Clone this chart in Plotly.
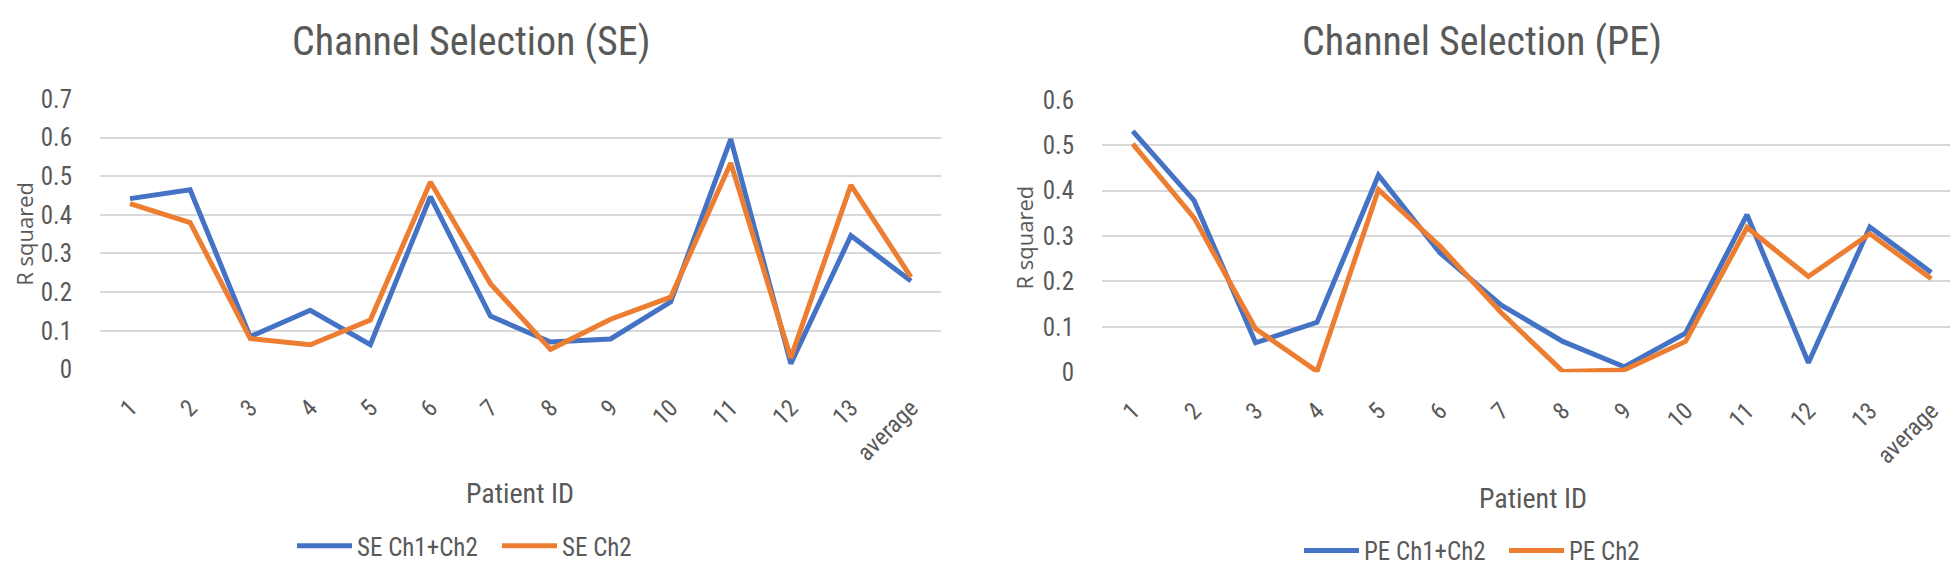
import plotly.graph_objects as go

# 横轴类别
patients = ['1', '2', '3', '4', '5', '6', '7', '8', '9', '10', '11', '12', '13', 'average']

# SE 数据
se_ch1_ch2 = [0.442, 0.465, 0.085, 0.153, 0.064, 0.447, 0.138, 0.071, 0.079, 0.175, 0.596, 0.015, 0.346, 0.229]
se_ch2 = [0.429, 0.380, 0.080, 0.064, 0.128, 0.485, 0.222, 0.052, 0.130, 0.187, 0.534, 0.030, 0.477, 0.239]

# PE 数据
pe_ch1_ch2 = [0.531, 0.378, 0.065, 0.110, 0.434, 0.263, 0.148, 0.068, 0.012, 0.086, 0.347, 0.021, 0.320, 0.220]
pe_ch2 = [0.503, 0.340, 0.096, 0.002, 0.402, 0.278, 0.131, 0.002, 0.005, 0.068, 0.319, 0.211, 0.305, 0.206]

BLUE = '#4472C4'
ORANGE = '#ED7D31'
GRID = '#D9D9D9'
TXT = '#595959'
NARROW = 'Liberation Sans Narrow, Arial Narrow, Roboto Condensed, sans-serif'
W, H = 1958, 572

fig = go.Figure()

# 左图 SE
fig.add_trace(go.Scatter(x=patients, y=se_ch1_ch2, mode='lines', name='SE Ch1+Ch2',
                         line=dict(color=BLUE, width=5), xaxis='x', yaxis='y', legend='legend'))
fig.add_trace(go.Scatter(x=patients, y=se_ch2, mode='lines', name='SE Ch2',
                         line=dict(color=ORANGE, width=5), xaxis='x', yaxis='y', legend='legend'))

# 右图 PE
fig.add_trace(go.Scatter(x=patients, y=pe_ch1_ch2, mode='lines', name='PE Ch1+Ch2',
                         line=dict(color=BLUE, width=5), xaxis='x2', yaxis='y2', legend='legend2'))
fig.add_trace(go.Scatter(x=patients, y=pe_ch2, mode='lines', name='PE Ch2',
                         line=dict(color=ORANGE, width=5), xaxis='x2', yaxis='y2', legend='legend2'))

xcommon = dict(type='category', range=[-0.5, 13.5], showgrid=False, zeroline=False,
               showline=False, tickangle=-45, ticks='outside', ticklen=14,
               tickcolor='rgba(0,0,0,0)', tickfont=dict(family=NARROW, size=24, color=TXT))
ycommon = dict(showgrid=True, gridcolor=GRID, gridwidth=2, zeroline=False, showline=False,
               ticks='outside', ticklen=22, tickcolor='rgba(0,0,0,0)', dtick=0.1,
               tickfont=dict(family=NARROW, size=25, color=TXT))

legcommon = dict(orientation='h', xanchor='left', yanchor='middle', itemwidth=55,
                 entrywidth=135, font=dict(family=NARROW, size=25, color=TXT),
                 bgcolor='rgba(0,0,0,0)')

fig.update_layout(
    width=W, height=H,
    margin=dict(l=0, r=0, t=0, b=0),
    paper_bgcolor='white', plot_bgcolor='white',
    xaxis=dict(domain=[92 / W, 933 / W], anchor='y', **xcommon),
    yaxis=dict(domain=[(H - 366) / H, (H - 81) / H], range=[0, 0.7], anchor='x', **ycommon),
    xaxis2=dict(domain=[1094 / W, 1954 / W], anchor='y2', **xcommon),
    yaxis2=dict(domain=[(H - 369) / H, (H - 82) / H], range=[0, 0.6], anchor='x2', **ycommon),
    legend=dict(x=284 / W, y=(H - 552) / H, **legcommon),
    legend2=dict(x=1291 / W, y=(H - 557) / H, **legcommon),
)

# 标题与轴标题
notes = [
    dict(text='Channel Selection (SE)', x=463 / W, y=(H - 21) / H, size=40, family=NARROW, angle=0),
    dict(text='Channel Selection (PE)', x=1474 / W, y=(H - 21) / H, size=40, family=NARROW, angle=0),
    dict(text='Patient ID', x=512 / W, y=(H - 497) / H, size=28, family=NARROW, angle=0),
    dict(text='Patient ID', x=1525 / W, y=(H - 502) / H, size=28, family=NARROW, angle=0),
    dict(text='R squared', x=16 / W, y=(H - 223) / H, size=22, family='Open Sans, sans-serif', angle=-90),
    dict(text='R squared', x=1016 / W, y=(H - 227) / H, size=22, family='Open Sans, sans-serif', angle=-90),
]
for n in notes:
    fig.add_annotation(text=n['text'], x=n['x'], y=n['y'], xref='paper', yref='paper',
                       xanchor='center', yanchor='middle', showarrow=False, textangle=n['angle'],
                       font=dict(family=n['family'], size=n['size'], color=TXT))

fig.write_html('out.html')
